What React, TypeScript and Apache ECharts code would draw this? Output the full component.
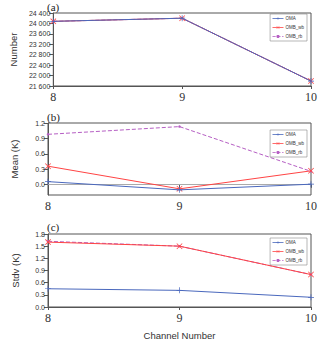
import React, { useEffect, useRef } from "react";
import * as echarts from "echarts";

const channels = [8, 9, 10];
const seriesNames = ["OMA", "OMB_wb", "OMB_rb"];

// (a) Number
const numOMA = [24080, 24200, 21790];
const numWB = [24080, 24200, 21790];
const numRB = [24080, 24200, 21790];
// (b) Mean (K)
const meanOMA = [0.06, -0.1, 0.01];
const meanWB = [0.36, -0.08, 0.27];
const meanRB = [0.98, 1.13, 0.26];
// (c) Stdv (K)
const stdOMA = [0.45, 0.41, 0.24];
const stdWB = [1.6, 1.5, 0.8];
const stdRB = [1.62, 1.5, 0.8];

const meanTicks = [0, 0.3, 0.6, 0.9, 1.2];

const BLUE = "#4a68bd";
const RED = "#ff4444";
const PURPLE = "#b65fc4";

const PLUS = "path://M4.4,0H5.6V4.4H10V5.6H5.6V10H4.4V5.6H0V4.4H4.4Z";
const CROSS = "path://M0,0.9L0.9,0L5,4.1L9.1,0L10,0.9L5.9,5L10,9.1L9.1,10L5,5.9L0.9,10L0,9.1L4.1,5Z";

export default function App() {
  const ref = useRef<HTMLDivElement>(null);
  useEffect(() => {
    if (!ref.current) return;
    const chart = echarts.init(ref.current, null, { renderer: "svg" });
    const grids = [
      { left: 48, right: 9, top: 13, height: 73 },
      { left: 48, right: 9, top: 123, height: 72 },
      { left: 48, right: 9, top: 234, height: 73 },
    ];
    const legendTops = [14, 130, 238];
    const sets = [
      [numOMA, numWB, numRB],
      [meanOMA, meanWB, meanRB],
      [stdOMA, stdWB, stdRB],
    ];
    const xAxes = grids.map((_, i) => ({
      type: "value",
      gridIndex: i,
      min: 8,
      max: 10,
      interval: 1,
      splitLine: { show: false },
      axisLine: { show: true, lineStyle: { color: "#555", width: 1 } },
      axisTick: { show: true, length: 3, lineStyle: { color: "#555" } },
      axisLabel: {
        fontFamily: "Liberation Serif",
        fontSize: 12,
        color: "#333",
        margin: 5,
      },
      ...(i === 2
        ? {
            name: "Channel Number",
            nameLocation: "middle",
            nameGap: 23,
            nameTextStyle: { fontFamily: "Liberation Sans", fontSize: 9.5, color: "#333" },
          }
        : {}),
    }));
    const baseY = {
      type: "value",
      nameLocation: "middle",
      nameRotate: 90,
      splitLine: { show: false },
      axisLine: { show: true, lineStyle: { color: "#555", width: 1 } },
      axisTick: { show: true, length: 4, lineStyle: { color: "#555" } },
    };
    const labelStyle = { fontFamily: "Liberation Sans", fontSize: 7, color: "#333", margin: 3 };
    const nameStyle = { fontFamily: "Liberation Sans", fontSize: 9.5, color: "#333" };
    const yAxes = [
      {
        ...baseY,
        gridIndex: 0,
        min: 21600,
        max: 24400,
        interval: 400,
        name: "Number",
        nameGap: 33,
        nameTextStyle: nameStyle,
        axisLabel: {
          ...labelStyle,
          formatter: (v: number) => {
            const s = String(Math.round(v));
            return s.slice(0, s.length - 3) + " " + s.slice(-3);
          },
        },
      },
      {
        ...baseY,
        gridIndex: 1,
        min: -0.2,
        max: 1.2,
        name: "Mean (K)",
        nameGap: 29,
        nameTextStyle: nameStyle,
        axisTick: { ...baseY.axisTick, customValues: meanTicks },
        axisLabel: { ...labelStyle, customValues: meanTicks, formatter: (v: number) => v.toFixed(1) },
      },
      {
        ...baseY,
        gridIndex: 2,
        min: 0,
        max: 1.8,
        interval: 0.3,
        name: "Stdv (K)",
        nameGap: 28,
        nameTextStyle: nameStyle,
        axisLabel: { ...labelStyle, formatter: (v: number) => v.toFixed(1) },
      },
    ];
    const styles = [
      { color: BLUE, symbol: PLUS, symbolSize: 6, type: "solid", width: 1 },
      { color: RED, symbol: CROSS, symbolSize: 6, type: "solid", width: 1 },
      { color: PURPLE, symbol: "circle", symbolSize: 2.5, type: "dashed", width: 1 },
    ];
    const order = [2, 1, 0];
    const series: any[] = [];
    sets.forEach((set, gi) => {
      order.forEach((si) => {
        const st = styles[si];
        const s: any = {
          type: "line",
          name: seriesNames[si],
          xAxisIndex: gi,
          yAxisIndex: gi,
          data: channels.map((c, k) => [c, set[si][k]]),
          symbol: st.symbol,
          symbolSize: st.symbolSize,
          showAllSymbol: true,
          itemStyle: { color: st.color },
          lineStyle: { color: st.color, width: st.width, type: st.type },
          z: 3 + (2 - si),
        };
        if (gi === 1 && si === 0) {
          s.markLine = {
            silent: true,
            symbol: "none",
            label: { show: false },
            lineStyle: { color: "#aaa", type: "solid", width: 1 },
            data: [{ yAxis: 0 }],
            z: 1,
          };
        }
        series.push(s);
      });
    });
    const legends = grids.map((g, i) => ({
      orient: "vertical",
      right: 13,
      top: legendTops[i],
      data: seriesNames,
      itemWidth: 11,
      itemHeight: 4,
      itemGap: 4,
      padding: [2, 3, 2, 2],
      borderColor: "#888",
      borderWidth: 0.6,
      backgroundColor: "#fff",
      lineStyle: { width: 0.8 },
      textStyle: { fontFamily: "Liberation Sans", fontSize: 4.5, color: "#333", padding: [0, 0, 0, -3] },
    }));
    chart.setOption({
      animation: false,
      backgroundColor: "#fff",
      grid: grids.map((g) => ({ ...g, show: true, borderColor: "#555", borderWidth: 1, backgroundColor: "transparent" })),
      xAxis: xAxes,
      yAxis: yAxes,
      legend: legends,
      series,
      graphic: [
        { type: "text", left: 47, top: 1, style: { text: "(a)", fontFamily: "Liberation Serif", fontSize: 11, fill: "#222" } },
        { type: "text", left: 47, top: 111, style: { text: "(b)", fontFamily: "Liberation Serif", fontSize: 11, fill: "#222" } },
        { type: "text", left: 47, top: 221, style: { text: "(c)", fontFamily: "Liberation Serif", fontSize: 11, fill: "#222" } },
      ],
    });
    return () => chart.dispose();
  }, []);
  return <div ref={ref} style={{ position: "fixed", left: 0, top: 0, width: 320, height: 341 }} />;
}
